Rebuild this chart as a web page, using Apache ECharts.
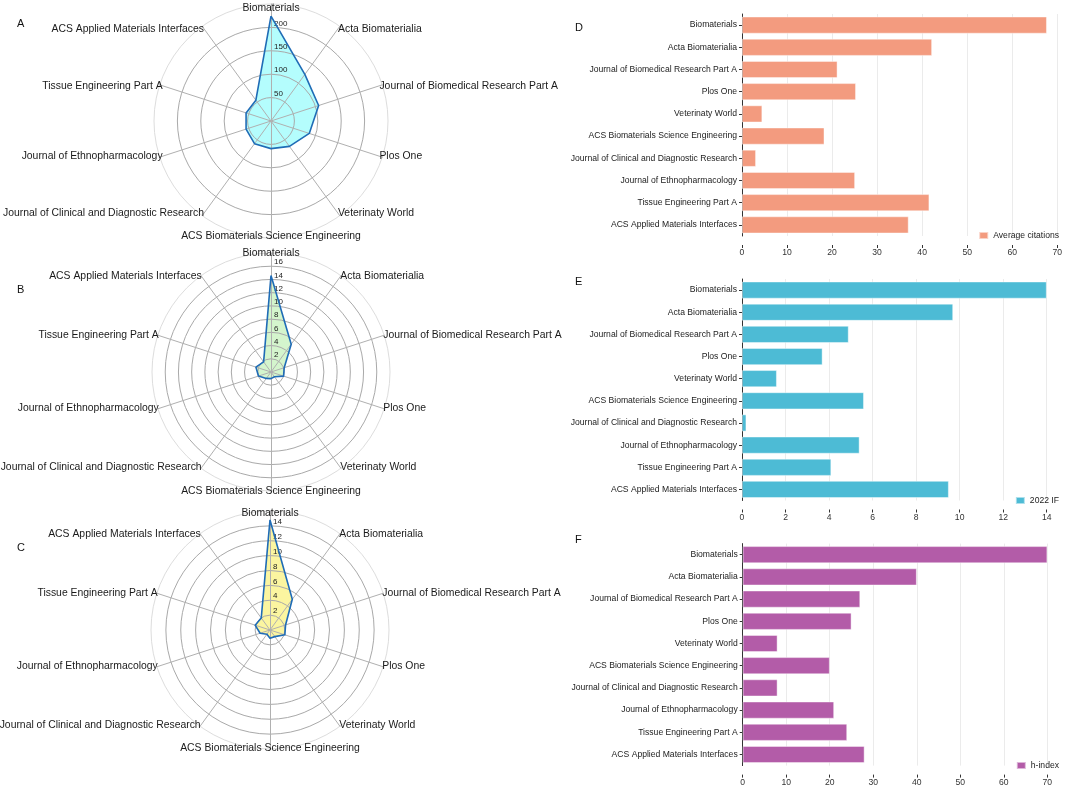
<!DOCTYPE html>
<html><head><meta charset="utf-8">
<script src="https://cdn.jsdelivr.net/npm/echarts@6/dist/echarts.min.js"></script>
<style>html,body{margin:0;padding:0;background:#fff}#c{width:1065px;height:788px}</style>
</head><body><div id="c"></div>
<script>
// ---- data ----
const journals = ['Biomaterials','Acta Biomaterialia','Journal of Biomedical Research Part A','Plos One','Veterinaty World','ACS Biomaterials Science Engineering','Journal of Clinical and Diagnostic Research','Journal of Ethnopharmacology','Tissue Engineering Part A','ACS Applied Materials Interfaces'];
const radarA = [224,123,107,86,67,59,60,56,56,55];
const radarB = [14.6,5.2,2.1,2.0,0.9,1.0,1.2,2.0,2.4,1.9];
const radarC = [14.8,5.1,2.2,2.1,1.1,1.1,0.7,1.4,2.1,2.0];
const avgCitations = [67.7,42.2,21.2,25.3,4.5,18.3,3.1,25.1,41.6,37.0];
const impactFactor = [14.0,9.7,4.9,3.7,1.6,5.6,0.2,5.4,4.1,9.5];
const hIndex = [70,40,27,25,8,20,8,21,24,28];
const radarMax = [250,18,16];
const radarSplit = [5,9,8];
const panelLetters = ['A','B','C','D','E','F'];

// ---- build ----
const FONT = 'Liberation Sans, Arial, sans-serif';
const order = [0,9,8,7,6,5,4,3,2,1]; // ECharts radar runs counter-clockwise; reference runs clockwise
function radarCfg(center, r, max, split, gapSide, gapTop, gapBottom) {
  const colors = [];
  for (let i = 0; i <= split; i++) colors.push(i === split ? '#dddddd' : '#a9a9a9');
  return {
    z: 2,
    center: center, radius: r, startAngle: 90, splitNumber: split, shape: 'circle',
    indicator: order.map((i, k) => {
      const o = { name: journals[i], min: 0, max: max, nameGap: k === 0 ? gapTop : (k === 5 ? gapBottom : gapSide) };
      if (k === 0) o.axisLabel = { show: true };
      return o;
    }),
    axisName: { color: '#1a1a1a', fontSize: 10.4, fontFamily: FONT },
    axisNameGap: gapSide,
    axisLine: { lineStyle: { color: '#b0b0b0', width: 1 } },
    axisTick: { show: false },
    axisLabel: {
      show: false, fontSize: 8, color: '#222', fontFamily: FONT,
      align: 'left', verticalAlign: 'bottom', margin: -3,
      formatter: v => (v === 0 || v === max) ? '' : String(v)
    },
    splitLine: { lineStyle: { color: colors, width: 1 } },
    splitArea: { show: false }
  };
}
function radarSeries(idx, vals, fill) {
  return [{
    type: 'radar', radarIndex: idx, symbol: 'none', silent: true, z: 1,
    lineStyle: { width: 0, opacity: 0 },
    areaStyle: { color: fill, opacity: 1 },
    data: [{ value: order.map(i => vals[i]) }]
  }, {
    type: 'radar', radarIndex: idx, symbol: 'none', silent: true, z: 3,
    lineStyle: { color: '#1f6cb6', width: 1.6 },
    data: [{ value: order.map(i => vals[i]) }]
  }];
}
const barGrids = [
  { left: 742, right: 7.7, top: 14, height: 222 },
  { left: 742, right: 18.3, top: 279, height: 221.5 },
  { left: 742.7, right: 17.7, top: 543.6, height: 222 }
];
const barMax = [70, 14, 70];
const barInt = [10, 2, 10];
const barNames = ['Average citations', '2022 IF', 'h-index'];
const barColors = ['#F39B7F', '#4DBBD5', '#B35CA8'];
const barVals = [avgCitations, impactFactor, hIndex];

const option = {
  backgroundColor: '#fff',
  animation: false,
  textStyle: { fontFamily: FONT },
  title: [
    [17, 18], [17, 284], [17, 542], [575, 22], [575, 276], [575, 534]
  ].map((p, i) => ({ text: panelLetters[i], left: p[0], top: p[1], padding: 0,
      textStyle: { fontSize: 11, fontWeight: 'normal', color: '#111', fontFamily: FONT } })),
  radar: [
    radarCfg([271, 121], 117, radarMax[0], radarSplit[0], -3, -9, -7),
    radarCfg([271, 372], 119, radarMax[1], radarSplit[1], -1, -9, -5),
    radarCfg([270, 630], 119, radarMax[2], radarSplit[2], -1, -7, -6)
  ],
  grid: barGrids,
  xAxis: barGrids.map((g, i) => ({
    type: 'value', gridIndex: i, min: 0, max: barMax[i], interval: barInt[i], offset: 9,
    axisLine: { show: false },
    axisTick: { show: true, length: 3, lineStyle: { color: '#333' } },
    axisLabel: { fontSize: 8.6, color: '#333', margin: 3.5, fontFamily: FONT },
    splitLine: { show: true, lineStyle: { color: '#ebebeb', width: 1 } }
  })),
  yAxis: barGrids.map((g, i) => ({
    type: 'category', gridIndex: i, inverse: true, data: journals,
    axisLine: { show: true, lineStyle: { color: '#333', width: 1 } },
    axisTick: { show: true, length: 3, alignWithLabel: true, lineStyle: { color: '#333' } },
    axisLabel: { fontSize: 8.6, color: '#222', margin: 5, fontFamily: FONT },
    splitLine: { show: false }
  })),
  legend: [231, 496, 761].map((t, i) => ({
    data: [barNames[i]], right: 6, top: t, padding: 0, icon: 'rect',
    itemWidth: 9, itemHeight: 7, itemGap: 5, selectedMode: false,
    textStyle: { fontSize: 8.6, color: '#222', fontFamily: FONT }
  })),
  series: [].concat(
    radarSeries(0, radarA, '#b4fdfd'),
    radarSeries(1, radarB, '#d4f5cd'),
    radarSeries(2, radarC, '#fbf5a0'),
    barVals.map((v, i) => ({
      type: 'bar', name: barNames[i], xAxisIndex: i, yAxisIndex: i, barWidth: 17,
      itemStyle: { color: barColors[i], borderColor: 'rgba(255,255,255,0.55)', borderWidth: 0.8 },
      data: v
    }))
  )
};
const chart = echarts.init(document.getElementById('c'));
chart.setOption(option);
</script></body></html>
